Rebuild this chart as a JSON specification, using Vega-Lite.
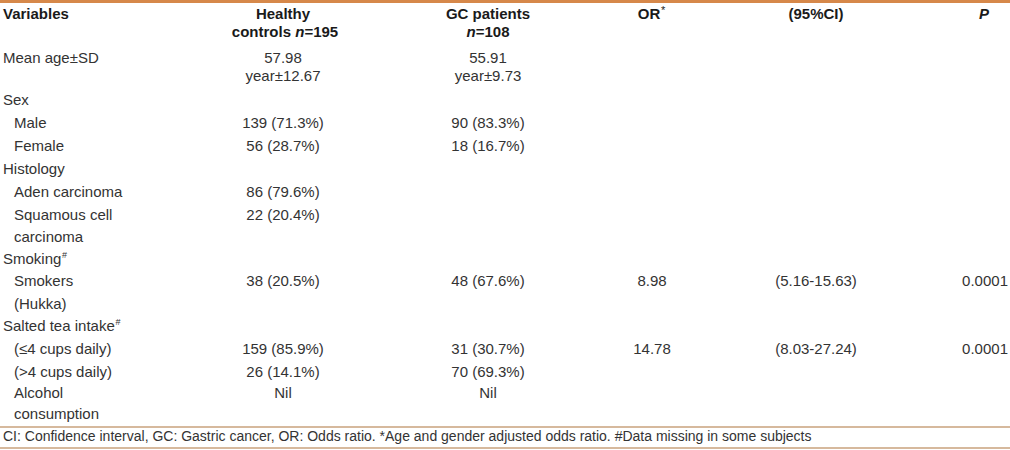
{
  "$schema": "https://vega.github.io/schema/vega-lite/v6.json",
  "width": 1010,
  "height": 450,
  "padding": 0,
  "autosize": {"type": "none"},
  "background": "white",
  "config": {"view": {"stroke": null}, "text": {"font": "Liberation Sans", "fontSize": 15, "baseline": "middle"}},
  "datasets": {
    "cells": [
      {"line": 0, "col": 0, "text": "Variables", "role": "headL"},
      {"line": 0, "col": 2, "text": "Healthy", "role": "head"},
      {"line": 0, "col": 3, "text": "GC patients", "role": "head"},
      {"line": 0, "col": 4, "text": "OR", "role": "or"},
      {"line": 0, "col": 4, "text": "*", "role": "orstar"},
      {"line": 0, "col": 5, "text": "(95%CI)", "role": "head"},
      {"line": 0, "col": 6, "text": "P", "role": "headI"},
      {"line": 1, "col": 2, "text": "controls", "role": "ctl"},
      {"line": 1, "col": 2, "text": "n", "role": "n195"},
      {"line": 1, "col": 2, "text": "=195", "role": "eq195"},
      {"line": 1, "col": 3, "text": "n", "role": "n108"},
      {"line": 1, "col": 3, "text": "=108", "role": "eq108"},
      {"line": 2, "col": 0, "text": "Mean age±SD", "role": "label"},
      {"line": 2, "col": 2, "text": "57.98", "role": "value"},
      {"line": 2, "col": 3, "text": "55.91", "role": "value"},
      {"line": 3, "col": 2, "text": "year±12.67", "role": "value"},
      {"line": 3, "col": 3, "text": "year±9.73", "role": "value"},
      {"line": 4, "col": 0, "text": "Sex", "role": "label"},
      {"line": 5, "col": 1, "text": "Male", "role": "label"},
      {"line": 5, "col": 2, "text": "139 (71.3%)", "role": "value"},
      {"line": 5, "col": 3, "text": "90 (83.3%)", "role": "value"},
      {"line": 6, "col": 1, "text": "Female", "role": "label"},
      {"line": 6, "col": 2, "text": "56 (28.7%)", "role": "value"},
      {"line": 6, "col": 3, "text": "18 (16.7%)", "role": "value"},
      {"line": 7, "col": 0, "text": "Histology", "role": "label"},
      {"line": 8, "col": 1, "text": "Aden carcinoma", "role": "label"},
      {"line": 8, "col": 2, "text": "86 (79.6%)", "role": "value"},
      {"line": 9, "col": 1, "text": "Squamous cell", "role": "label"},
      {"line": 9, "col": 2, "text": "22 (20.4%)", "role": "value"},
      {"line": 10, "col": 1, "text": "carcinoma", "role": "label"},
      {"line": 11, "col": 0, "text": "Smoking", "role": "label"},
      {"line": 11, "col": 0, "text": "#", "role": "sup1"},
      {"line": 12, "col": 1, "text": "Smokers", "role": "label"},
      {"line": 12, "col": 2, "text": "38 (20.5%)", "role": "value"},
      {"line": 12, "col": 3, "text": "48 (67.6%)", "role": "value"},
      {"line": 12, "col": 4, "text": "8.98", "role": "value"},
      {"line": 12, "col": 5, "text": "(5.16-15.63)", "role": "value"},
      {"line": 12, "col": 7, "text": "0.0001", "role": "p"},
      {"line": 13, "col": 1, "text": "(Hukka)", "role": "label"},
      {"line": 14, "col": 0, "text": "Salted tea intake", "role": "label"},
      {"line": 14, "col": 0, "text": "#", "role": "sup2"},
      {"line": 15, "col": 1, "text": "(≤4 cups daily)", "role": "label"},
      {"line": 15, "col": 2, "text": "159 (85.9%)", "role": "value"},
      {"line": 15, "col": 3, "text": "31 (30.7%)", "role": "value"},
      {"line": 15, "col": 4, "text": "14.78", "role": "value"},
      {"line": 15, "col": 5, "text": "(8.03-27.24)", "role": "value"},
      {"line": 15, "col": 7, "text": "0.0001", "role": "p"},
      {"line": 16, "col": 1, "text": "(>4 cups daily)", "role": "label"},
      {"line": 16, "col": 2, "text": "26 (14.1%)", "role": "value"},
      {"line": 16, "col": 3, "text": "70 (69.3%)", "role": "value"},
      {"line": 17, "col": 1, "text": "Alcohol", "role": "label"},
      {"line": 17, "col": 2, "text": "Nil", "role": "value"},
      {"line": 17, "col": 3, "text": "Nil", "role": "value"},
      {"line": 18, "col": 1, "text": "consumption", "role": "label"},
      {"line": 19, "col": 0, "text": "CI: Confidence interval, GC: Gastric cancer, OR: Odds ratio. *Age and gender adjusted odds ratio. #Data missing in some subjects", "role": "foot"}
    ]
  },
  "encoding": {
    "y": {
      "field": "line", "type": "quantitative", "axis": null,
      "scale": {
        "zero": false, "nice": false,
        "domain": [-1, 0, 1, 2, 3, 4, 5, 6, 7, 8, 9, 10, 11, 12, 13, 14, 15, 16, 17, 18, 18.5, 19, 20],
        "range": [1.5, 14, 32, 58, 76, 100, 123, 146, 169, 192, 215, 237, 259, 281, 304, 326, 349, 372, 393, 414, 427, 437, 448]
      }
    }
  },
  "layer": [
    {
      "data": {"values": [{"line": -1}]},
      "mark": {"type": "rule", "stroke": "#d6884a", "strokeWidth": 3},
      "encoding": {}
    },
    {
      "data": {"values": [{"line": 18.5}, {"line": 20}]},
      "mark": {"type": "rule", "stroke": "#c9a27c", "strokeWidth": 1.5},
      "encoding": {}
    },
    {
      "data": {"name": "cells"},
      "transform": [{"filter": "datum.role === 'label'"}],
      "mark": {"type": "text", "align": "left", "color": "#333333"},
      "encoding": {
        "x": {"field": "col", "type": "quantitative", "axis": null, "scale": {"zero": false, "nice": false, "domain": [0, 1, 2, 3, 4, 5, 6, 7], "range": [3, 14, 283, 488, 652, 816, 984, 1008]}},
        "text": {"field": "text"}
      }
    },
    {
      "data": {"name": "cells"},
      "transform": [{"filter": "datum.role === 'foot'"}],
      "mark": {"type": "text", "align": "left", "color": "#333333", "fontSize": 14},
      "encoding": {
        "x": {"field": "col", "type": "quantitative", "axis": null, "scale": {"zero": false, "nice": false, "domain": [0, 1, 2, 3, 4, 5, 6, 7], "range": [3, 14, 283, 488, 652, 816, 984, 1008]}},
        "text": {"field": "text"}
      }
    },
    {
      "data": {"name": "cells"},
      "transform": [{"filter": "datum.role === 'value'"}],
      "mark": {"type": "text", "align": "center", "color": "#333333"},
      "encoding": {
        "x": {"field": "col", "type": "quantitative", "axis": null, "scale": {"zero": false, "nice": false, "domain": [0, 1, 2, 3, 4, 5, 6, 7], "range": [3, 14, 283, 488, 652, 816, 984, 1008]}},
        "text": {"field": "text"}
      }
    },
    {
      "data": {"name": "cells"},
      "transform": [{"filter": "datum.role === 'p'"}],
      "mark": {"type": "text", "align": "right", "color": "#333333"},
      "encoding": {
        "x": {"field": "col", "type": "quantitative", "axis": null, "scale": {"zero": false, "nice": false, "domain": [0, 1, 2, 3, 4, 5, 6, 7], "range": [3, 14, 283, 488, 652, 816, 984, 1008]}},
        "text": {"field": "text"}
      }
    },
    {
      "data": {"name": "cells"},
      "transform": [{"filter": "datum.role === 'sup1'"}],
      "mark": {"type": "text", "align": "left", "color": "#333333", "fontSize": 9, "dx": 59, "dy": -4},
      "encoding": {
        "x": {"field": "col", "type": "quantitative", "axis": null, "scale": {"zero": false, "nice": false, "domain": [0, 1, 2, 3, 4, 5, 6, 7], "range": [3, 14, 283, 488, 652, 816, 984, 1008]}},
        "text": {"field": "text"}
      }
    },
    {
      "data": {"name": "cells"},
      "transform": [{"filter": "datum.role === 'sup2'"}],
      "mark": {"type": "text", "align": "left", "color": "#333333", "fontSize": 9, "dx": 112.5, "dy": -4},
      "encoding": {
        "x": {"field": "col", "type": "quantitative", "axis": null, "scale": {"zero": false, "nice": false, "domain": [0, 1, 2, 3, 4, 5, 6, 7], "range": [3, 14, 283, 488, 652, 816, 984, 1008]}},
        "text": {"field": "text"}
      }
    },
    {
      "data": {"name": "cells"},
      "transform": [{"filter": "datum.role === 'headL'"}],
      "mark": {"type": "text", "align": "left", "color": "#1a1a1a", "fontWeight": "bold"},
      "encoding": {
        "x": {"field": "col", "type": "quantitative", "axis": null, "scale": {"zero": false, "nice": false, "domain": [0, 1, 2, 3, 4, 5, 6, 7], "range": [3, 14, 283, 488, 652, 816, 984, 1008]}},
        "text": {"field": "text"}
      }
    },
    {
      "data": {"name": "cells"},
      "transform": [{"filter": "datum.role === 'head'"}],
      "mark": {"type": "text", "align": "center", "color": "#1a1a1a", "fontWeight": "bold"},
      "encoding": {
        "x": {"field": "col", "type": "quantitative", "axis": null, "scale": {"zero": false, "nice": false, "domain": [0, 1, 2, 3, 4, 5, 6, 7], "range": [3, 14, 283, 488, 652, 816, 984, 1008]}},
        "text": {"field": "text"}
      }
    },
    {
      "data": {"name": "cells"},
      "transform": [{"filter": "datum.role === 'headI'"}],
      "mark": {"type": "text", "align": "center", "color": "#1a1a1a", "fontWeight": "bold", "fontStyle": "italic"},
      "encoding": {
        "x": {"field": "col", "type": "quantitative", "axis": null, "scale": {"zero": false, "nice": false, "domain": [0, 1, 2, 3, 4, 5, 6, 7], "range": [3, 14, 283, 488, 652, 816, 984, 1008]}},
        "text": {"field": "text"}
      }
    },
    {
      "data": {"name": "cells"},
      "transform": [{"filter": "datum.role === 'or'"}],
      "mark": {"type": "text", "align": "center", "color": "#1a1a1a", "fontWeight": "bold", "dx": -3},
      "encoding": {
        "x": {"field": "col", "type": "quantitative", "axis": null, "scale": {"zero": false, "nice": false, "domain": [0, 1, 2, 3, 4, 5, 6, 7], "range": [3, 14, 283, 488, 652, 816, 984, 1008]}},
        "text": {"field": "text"}
      }
    },
    {
      "data": {"name": "cells"},
      "transform": [{"filter": "datum.role === 'orstar'"}],
      "mark": {"type": "text", "align": "left", "color": "#1a1a1a", "fontSize": 11, "dx": 9, "dy": -3},
      "encoding": {
        "x": {"field": "col", "type": "quantitative", "axis": null, "scale": {"zero": false, "nice": false, "domain": [0, 1, 2, 3, 4, 5, 6, 7], "range": [3, 14, 283, 488, 652, 816, 984, 1008]}},
        "text": {"field": "text"}
      }
    },
    {
      "data": {"name": "cells"},
      "transform": [{"filter": "datum.role === 'ctl'"}],
      "mark": {"type": "text", "align": "left", "color": "#1a1a1a", "fontWeight": "bold", "dx": -51.2},
      "encoding": {
        "x": {"field": "col", "type": "quantitative", "axis": null, "scale": {"zero": false, "nice": false, "domain": [0, 1, 2, 3, 4, 5, 6, 7], "range": [3, 14, 283, 488, 652, 816, 984, 1008]}},
        "text": {"field": "text"}
      }
    },
    {
      "data": {"name": "cells"},
      "transform": [{"filter": "datum.role === 'n195'"}],
      "mark": {"type": "text", "align": "left", "color": "#1a1a1a", "fontWeight": "bold", "fontStyle": "italic", "dx": 12.2},
      "encoding": {
        "x": {"field": "col", "type": "quantitative", "axis": null, "scale": {"zero": false, "nice": false, "domain": [0, 1, 2, 3, 4, 5, 6, 7], "range": [3, 14, 283, 488, 652, 816, 984, 1008]}},
        "text": {"field": "text"}
      }
    },
    {
      "data": {"name": "cells"},
      "transform": [{"filter": "datum.role === 'eq195'"}],
      "mark": {"type": "text", "align": "left", "color": "#1a1a1a", "fontWeight": "bold", "dx": 21.4},
      "encoding": {
        "x": {"field": "col", "type": "quantitative", "axis": null, "scale": {"zero": false, "nice": false, "domain": [0, 1, 2, 3, 4, 5, 6, 7], "range": [3, 14, 283, 488, 652, 816, 984, 1008]}},
        "text": {"field": "text"}
      }
    },
    {
      "data": {"name": "cells"},
      "transform": [{"filter": "datum.role === 'n108'"}],
      "mark": {"type": "text", "align": "left", "color": "#1a1a1a", "fontWeight": "bold", "fontStyle": "italic", "dx": -21.5},
      "encoding": {
        "x": {"field": "col", "type": "quantitative", "axis": null, "scale": {"zero": false, "nice": false, "domain": [0, 1, 2, 3, 4, 5, 6, 7], "range": [3, 14, 283, 488, 652, 816, 984, 1008]}},
        "text": {"field": "text"}
      }
    },
    {
      "data": {"name": "cells"},
      "transform": [{"filter": "datum.role === 'eq108'"}],
      "mark": {"type": "text", "align": "left", "color": "#1a1a1a", "fontWeight": "bold", "dx": -12.3},
      "encoding": {
        "x": {"field": "col", "type": "quantitative", "axis": null, "scale": {"zero": false, "nice": false, "domain": [0, 1, 2, 3, 4, 5, 6, 7], "range": [3, 14, 283, 488, 652, 816, 984, 1008]}},
        "text": {"field": "text"}
      }
    }
  ]
}
